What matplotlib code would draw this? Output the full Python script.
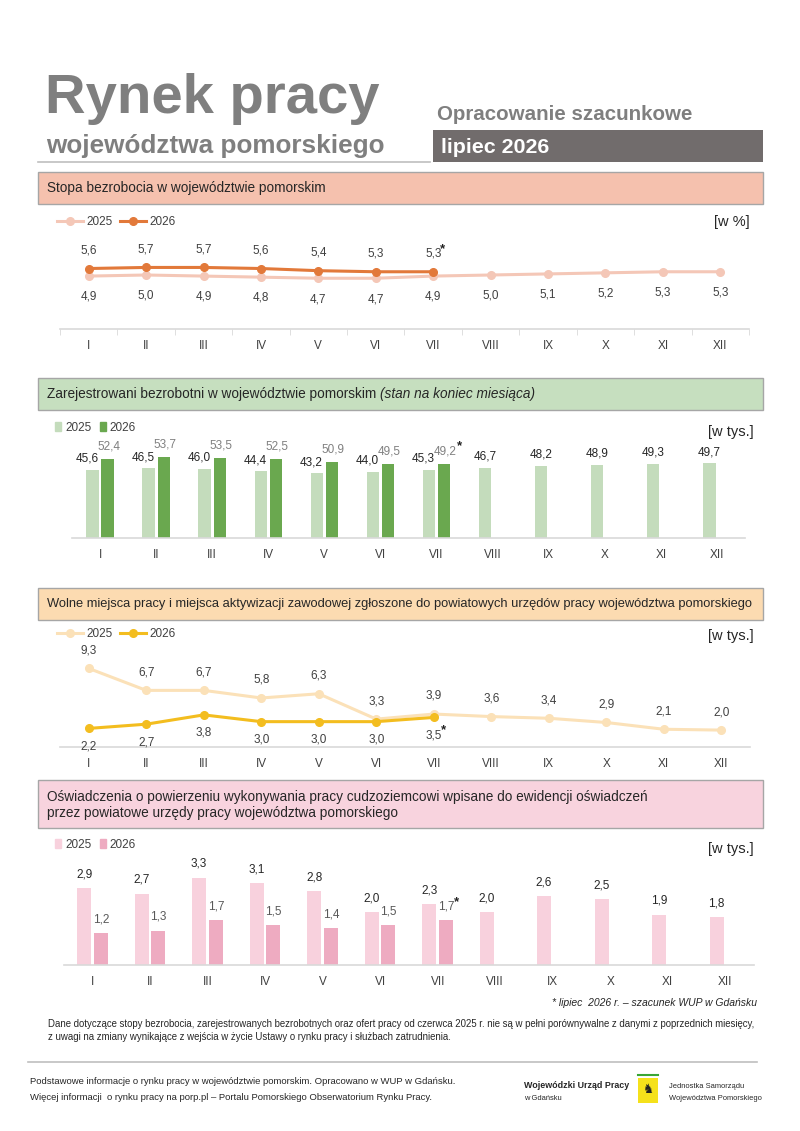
import matplotlib
matplotlib.use('Agg')
import matplotlib.pyplot as plt
from matplotlib.patches import Rectangle, Patch
from matplotlib.lines import Line2D

plt.rcParams['font.family'] = ['Liberation Sans', 'DejaVu Sans']

# --- data ---
months = ['I', 'II', 'III', 'IV', 'V', 'VI', 'VII', 'VIII', 'IX', 'X', 'XI', 'XII']
rate_2025 = [4.9, 5.0, 4.9, 4.8, 4.7, 4.7, 4.9, 5.0, 5.1, 5.2, 5.3, 5.3]
rate_2026 = [5.6, 5.7, 5.7, 5.6, 5.4, 5.3, 5.3]
unemp_2025 = [45.6, 46.5, 46.0, 44.4, 43.2, 44.0, 45.3, 46.7, 48.2, 48.9, 49.3, 49.7]
unemp_2026 = [52.4, 53.7, 53.5, 52.5, 50.9, 49.5, 49.2]
offers_2025 = [9.3, 6.7, 6.7, 5.8, 6.3, 3.3, 3.9, 3.6, 3.4, 2.9, 2.1, 2.0]
offers_2026 = [2.2, 2.7, 3.8, 3.0, 3.0, 3.0, 3.5]
decl_2025 = [2.9, 2.7, 3.3, 3.1, 2.8, 2.0, 2.3, 2.0, 2.6, 2.5, 1.9, 1.8]
decl_2026 = [1.2, 1.3, 1.7, 1.5, 1.4, 1.5, 1.7]

W, H = 800, 1131
fig = plt.figure(figsize=(8, 11.31), dpi=100)
fig.patch.set_facecolor('white')

TXT = '#404040'
DARK = '#262626'
GRAY_T = '#7f7f7f'
LBL = 8.5      # value labels / legend / ticks
HDR = 9.8      # section header text


def fx(x):
    return x / W


def fy(y):
    return 1 - y / H


def text(x, y, s, **kw):
    return fig.text(fx(x), fy(y), s, **kw)


def box(x0, y0, x1, y1, fc, ec='none', lw=0):
    fig.add_artist(Rectangle((fx(x0), fy(y1)), (x1 - x0) / W, (y1 - y0) / H,
                             transform=fig.transFigure, facecolor=fc,
                             edgecolor=ec, linewidth=lw))


def hline(x0, x1, y, color, lw):
    fig.add_artist(Line2D([fx(x0), fx(x1)], [fy(y), fy(y)],
                          transform=fig.transFigure, color=color, lw=lw))


def fmt(v):
    return f'{v:.1f}'.replace('.', ',')


def make_ax(left, right, top, bottom, ymax):
    ax = fig.add_axes([fx(left), fy(bottom), (right - left) / W, (bottom - top) / H])
    ax.set_xlim(-0.5, 11.5)
    ax.set_ylim(0, ymax)
    for s in ['top', 'right', 'left']:
        ax.spines[s].set_visible(False)
    ax.spines['bottom'].set_color('#d9d9d9')
    ax.spines['bottom'].set_linewidth(1.2)
    ax.patch.set_alpha(0)
    ax.set_yticks([])
    ax.set_xticks(range(12))
    ax.set_xticklabels(months)
    ax.tick_params(axis='x', length=0, pad=8, labelsize=LBL, labelcolor=TXT)
    return ax


def star(ax, x, y, dx, dy):
    ax.annotate('*', (x, y), xytext=(dx, dy), textcoords='offset points',
                ha='left', va='center', fontsize=9.5, fontweight='bold', color='#222222')


def line_legend(c1, c2, y):
    fig.legend([Line2D([], [], color=c1, lw=2.2, marker='o', ms=5.5),
                Line2D([], [], color=c2, lw=2.2, marker='o', ms=5.5)], ['2025', '2026'],
               loc='center left', bbox_to_anchor=(fx(57), fy(y)), ncol=2, frameon=False,
               fontsize=LBL, handlelength=2.2, handletextpad=0.3, columnspacing=0.6,
               borderpad=0, borderaxespad=0, labelcolor=TXT)


def bar_legend(c1, c2, y):
    fig.legend([Patch(color=c1), Patch(color=c2)], ['2025', '2026'],
               loc='center left', bbox_to_anchor=(fx(55), fy(y)), ncol=2, frameon=False,
               fontsize=LBL, handlelength=0.55, handleheight=0.8, handletextpad=0.3,
               columnspacing=0.7, borderpad=0, borderaxespad=0, labelcolor=TXT)


# --- header ---
text(45, 113, 'Rynek pracy', fontsize=40.5, fontweight='bold', color=GRAY_T, va='baseline')
text(46, 153, 'województwa pomorskiego', fontsize=18.8, fontweight='bold', color=GRAY_T,
     va='baseline')
hline(38, 430, 162, '#bfbfbf', 1.2)
text(437, 120, 'Opracowanie szacunkowe', fontsize=14.8, fontweight='bold', color=GRAY_T,
     va='baseline')
box(433, 130, 763, 162, '#716c6c')
text(441, 153, 'lipiec 2026', fontsize=15.4, fontweight='bold', color='white', va='baseline')

# --- section 1: unemployment rate ---
box(38, 172, 763, 204, '#f5c1ae', ec='#a6a6a6', lw=1)
text(47, 188, 'Stopa bezrobocia w województwie pomorskim', fontsize=HDR, color=DARK,
     va='center')

c25, c26 = '#f4c7b7', '#e2793a'
ax1 = make_ax(60, 749, 240, 329, 89 / 10.8)
ax1.set_xticks([k - 0.5 for k in range(13)], minor=True)
ax1.tick_params(axis='x', which='minor', length=4, color='#d9d9d9')
ax1.plot(range(12), rate_2025, color=c25, lw=2.2, marker='o', ms=5.5, zorder=2)
ax1.plot(range(7), rate_2026, color=c26, lw=2.2, marker='o', ms=5.5, zorder=3)
for i, v in enumerate(rate_2025):
    ax1.annotate(fmt(v), (i, v), xytext=(0, -15), textcoords='offset points',
                 ha='center', va='center', fontsize=LBL, color=TXT)
for i, v in enumerate(rate_2026):
    ax1.annotate(fmt(v), (i, v), xytext=(0, 13), textcoords='offset points',
                 ha='center', va='center', fontsize=LBL, color=TXT)
star(ax1, 6, rate_2026[6], 5, 16)
line_legend(c25, c26, 222)
text(750, 222, '[w %]', fontsize=10.5, color=DARK, ha='right', va='center')

# --- section 2: registered unemployed ---
box(38, 378, 763, 410, '#c6dfbf', ec='#a6a6a6', lw=1)
t = text(47, 394, 'Zarejestrowani bezrobotni w województwie pomorskim ', fontsize=HDR,
         color=DARK, va='center')
fig.canvas.draw()
bb = t.get_window_extent()
text(bb.x1, 394, '(stan na koniec miesiąca)', fontsize=HDR, color=DARK, va='center',
     style='italic')

g25, g26 = '#c4dcbc', '#6aa84f'
ax2 = make_ax(72, 745, 430, 538, 108 / 1.5)
x25 = [i - 0.135 for i in range(12)]
x26 = [i + 0.135 for i in range(7)]
ax2.bar(x25, unemp_2025, width=0.22, color=g25)
ax2.bar(x26, unemp_2026, width=0.22, color=g26)
for i, (x, v) in enumerate(zip(x25, unemp_2025)):
    dx = -4 if i < 7 else 0
    ax2.annotate(fmt(v), (x, v), xytext=(dx, 8), textcoords='offset points',
                 ha='center', va='center', fontsize=LBL, color=DARK)
for x, v in zip(x26, unemp_2026):
    ax2.annotate(fmt(v), (x, v), xytext=(1, 9), textcoords='offset points',
                 ha='center', va='center', fontsize=LBL, color='#808080')
star(ax2, x26[6], unemp_2026[6], 9, 13)
bar_legend(g25, g26, 428)
text(754, 432, '[w tys.]', fontsize=10.5, color=DARK, ha='right', va='center')

# --- section 3: job offers ---
box(38, 588, 763, 620, '#fcdbb1', ec='#a6a6a6', lw=1)
text(47, 604, 'Wolne miejsca pracy i miejsca aktywizacji zawodowej zgłoszone do powiatowych '
     'urzędów pracy województwa pomorskiego', fontsize=9.3, color=DARK, va='center')

y25, y26 = '#fbe1b8', '#f3bd1f'
ax3 = make_ax(60, 750, 645, 747, 102 / 8.45)
ax3.plot(range(12), offers_2025, color=y25, lw=2.2, marker='o', ms=5.5, zorder=2)
ax3.plot(range(7), offers_2026, color=y26, lw=2.2, marker='o', ms=5.5, zorder=3)
for i, v in enumerate(offers_2025):
    ax3.annotate(fmt(v), (i, v), xytext=(0, 13), textcoords='offset points',
                 ha='center', va='center', fontsize=LBL, color=TXT)
for i, v in enumerate(offers_2026):
    ax3.annotate(fmt(v), (i, v), xytext=(0, -13), textcoords='offset points',
                 ha='center', va='center', fontsize=LBL, color=TXT)
star(ax3, 6, offers_2026[6], 5, -9)
line_legend(y25, y26, 634)
text(754, 636, '[w tys.]', fontsize=10.5, color=DARK, ha='right', va='center')

# --- section 4: declarations for foreigners ---
box(38, 780, 763, 828, '#f8d3de', ec='#a6a6a6', lw=1)
text(47, 797, 'Oświadczenia o powierzeniu wykonywania pracy cudzoziemcowi wpisane do '
     'ewidencji oświadczeń', fontsize=HDR, color=DARK, va='center')
text(47, 813, 'przez powiatowe urzędy pracy województwa pomorskiego', fontsize=HDR,
     color=DARK, va='center')

p25, p26 = '#f8d1dd', '#eeabc1'
ax4 = make_ax(64, 754, 860, 965, 105 / 26.4)
x25 = [i - 0.15 for i in range(12)]
x26 = [i + 0.14 for i in range(7)]
ax4.bar(x25, decl_2025, width=0.245, color=p25)
ax4.bar(x26, decl_2026, width=0.245, color=p26)
for x, v in zip(x25, decl_2025):
    ax4.annotate(fmt(v), (x, v), xytext=(0, 10), textcoords='offset points',
                 ha='center', va='center', fontsize=LBL, color=DARK)
for x, v in zip(x26, decl_2026):
    ax4.annotate(fmt(v), (x, v), xytext=(0, 10), textcoords='offset points',
                 ha='center', va='center', fontsize=LBL, color='#595959')
star(ax4, x26[6], decl_2026[6], 6, 13)
bar_legend(p25, p26, 845)
text(754, 849, '[w tys.]', fontsize=10.5, color=DARK, ha='right', va='center')

# --- notes and footer ---
text(757, 1003, '* lipiec  2026 r. – szacunek WUP w Gdańsku', fontsize=7.5, style='italic',
     color=DARK, ha='right', va='center')
text(48, 1024, 'Dane dotyczące stopy bezrobocia, zarejestrowanych bezrobotnych oraz ofert pracy '
     'od czerwca 2025 r. nie są w pełni porównywalne z danymi z poprzednich miesięcy,',
     fontsize=6.9, color=DARK, va='center')
text(48, 1037, 'z uwagi na zmiany wynikające z wejścia w życie Ustawy o rynku pracy i służbach '
     'zatrudnienia.', fontsize=6.9, color=DARK, va='center')
hline(28, 757, 1062, '#bfbfbf', 1.2)
text(30, 1082, 'Podstawowe informacje o rynku pracy w województwie pomorskim. Opracowano w WUP '
     'w Gdańsku.', fontsize=6.8, color=DARK, va='center')
text(30, 1097, 'Więcej informacji  o rynku pracy na porp.pl – Portalu Pomorskiego Obserwatorium '
     'Rynku Pracy.', fontsize=6.8, color=DARK, va='center')
text(524, 1085, 'Wojewódzki Urząd Pracy', fontsize=6.4, fontweight='bold', color=DARK,
     va='center')
text(524, 1098, 'w Gdańsku', fontsize=5.4, color=DARK, va='center')
hline(638, 658, 1075, '#3aa635', 1.5)
box(638, 1078, 658, 1103, '#f5e11b')
text(648, 1090, '♞', fontsize=9, color='#222222', ha='center', va='center')
text(669, 1087, 'Jednostka Samorządu', fontsize=5.4, color=DARK, va='center')
text(669, 1099, 'Województwa Pomorskiego', fontsize=5.4, color=DARK, va='center')

fig.savefig('out.png', dpi=100, facecolor='white')
